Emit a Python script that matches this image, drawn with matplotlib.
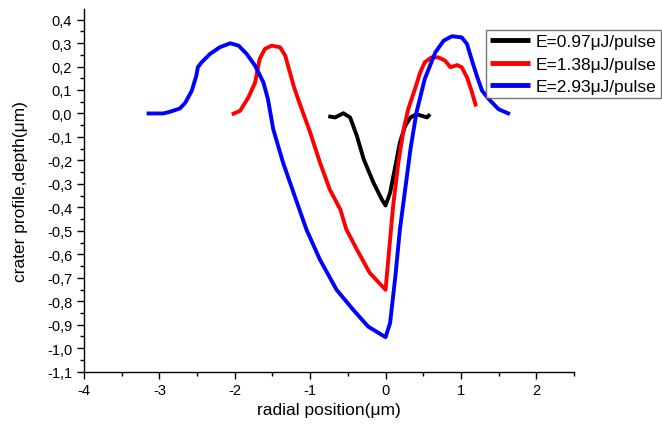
import matplotlib
matplotlib.use("Agg")
import matplotlib.pyplot as plt
from matplotlib.ticker import MultipleLocator, FuncFormatter

plt.rcParams['font.family'] = ['Liberation Sans', 'DejaVu Sans']

# crater profiles (radial position in um, depth in um)
x_097 = [-0.76, -0.67, -0.56, -0.47, -0.38, -0.29, -0.16, -0.05, 0.0, 0.06,
         0.13, 0.19, 0.26, 0.33, 0.41, 0.48, 0.55, 0.59]
y_097 = [-0.012, -0.017, 0.001, -0.017, -0.096, -0.195, -0.295, -0.366, -0.392, -0.338,
         -0.224, -0.124, -0.053, -0.017, -0.003, -0.010, -0.017, -0.003]

x_138 = [-2.04, -1.93, -1.82, -1.73, -1.67, -1.60, -1.51, -1.40, -1.33, -1.22,
         -1.16, -1.00, -0.87, -0.74, -0.60, -0.52, -0.38, -0.21, 0.0,
         0.04, 0.10, 0.17, 0.24, 0.30, 0.39, 0.46, 0.52, 0.61, 0.70,
         0.79, 0.86, 0.95, 1.01, 1.08, 1.14, 1.20]
y_138 = [-0.004, 0.011, 0.068, 0.132, 0.232, 0.275, 0.289, 0.282, 0.246, 0.118,
         0.061, -0.081, -0.209, -0.324, -0.409, -0.494, -0.580, -0.679, -0.751,
         -0.609, -0.395, -0.209, -0.067, 0.018, 0.104, 0.175, 0.218, 0.239, 0.239,
         0.225, 0.197, 0.206, 0.197, 0.154, 0.097, 0.030]

x_293 = [-3.17, -2.95, -2.86, -2.73, -2.66, -2.57, -2.51, -2.49, -2.44, -2.33,
         -2.20, -2.06, -1.95, -1.84, -1.73, -1.62, -1.56, -1.49, -1.36, -1.22,
         -1.05, -0.87, -0.65, -0.43, -0.23, 0.0,
         0.06, 0.13, 0.19, 0.26, 0.33, 0.41, 0.52, 0.66, 0.77, 0.88,
         1.01, 1.08, 1.14, 1.21, 1.28, 1.37, 1.50, 1.65]
y_293 = [0.0, 0.0, 0.007, 0.021, 0.044, 0.097, 0.161, 0.197, 0.218, 0.253,
         0.282, 0.299, 0.289, 0.253, 0.203, 0.132, 0.061, -0.067, -0.209, -0.338,
         -0.494, -0.623, -0.751, -0.836, -0.908, -0.953,
         -0.893, -0.694, -0.495, -0.324, -0.153, 0.004, 0.147, 0.26, 0.31, 0.329,
         0.324, 0.296, 0.232, 0.161, 0.097, 0.061, 0.018, -0.003]

labels = ['E=0.97μJ/pulse', 'E=1.38μJ/pulse', 'E=2.93μJ/pulse']

fig = plt.figure(figsize=(6.62, 4.31), dpi=100)
ax = fig.add_axes([0.1269, 0.1353, 0.7402, 0.8415])

style = dict(lw=2.8, solid_joinstyle='round', solid_capstyle='butt')
ax.plot(x_097, y_097, color='black', label=labels[0], **style)
ax.plot(x_138, y_138, color='red', label=labels[1], **style)
ax.plot(x_293, y_293, color='blue', label=labels[2], **style)

ax.set_xlim(-4, 2.5)
ax.set_ylim(-1.1, 0.445)

ax.spines['top'].set_visible(False)
ax.spines['right'].set_visible(False)
for s in ('left', 'bottom'):
    ax.spines[s].set_linewidth(1.0)

ax.xaxis.set_major_locator(MultipleLocator(1))
ax.xaxis.set_minor_locator(MultipleLocator(0.5))
ax.yaxis.set_major_locator(MultipleLocator(0.1))
ax.yaxis.set_minor_locator(MultipleLocator(0.05))
ax.xaxis.set_major_formatter(FuncFormatter(lambda v, p: '%d' % round(v)))
ax.yaxis.set_major_formatter(
    FuncFormatter(lambda v, p: ('%.1f' % v).replace('.', ',').replace('-0,0', '0,0')))
ax.tick_params(which='major', direction='out', length=5, width=1, labelsize=10.5)
ax.tick_params(which='minor', direction='out', length=3, width=1)

ax.set_xlabel('radial position(μm)', fontsize=12.5)
ax.set_ylabel('crater profile,depth(μm)', fontsize=12.5)
ax.xaxis.set_label_coords(0.5, -0.083)
ax.yaxis.set_label_coords(-0.114, 0.5)

leg = ax.legend(loc='upper left', bbox_to_anchor=(486 / 662, 1 - 31 / 431),
                bbox_transform=fig.transFigure, fontsize=12.5, frameon=True,
                fancybox=False, edgecolor='#555555', handlelength=2.3,
                handletextpad=0.3, borderpad=0.25, labelspacing=0.4,
                borderaxespad=0)
leg.get_frame().set_linewidth(1.0)
for line in leg.get_lines():
    line.set_linewidth(3.5)

fig.savefig('out.png', dpi=100)
